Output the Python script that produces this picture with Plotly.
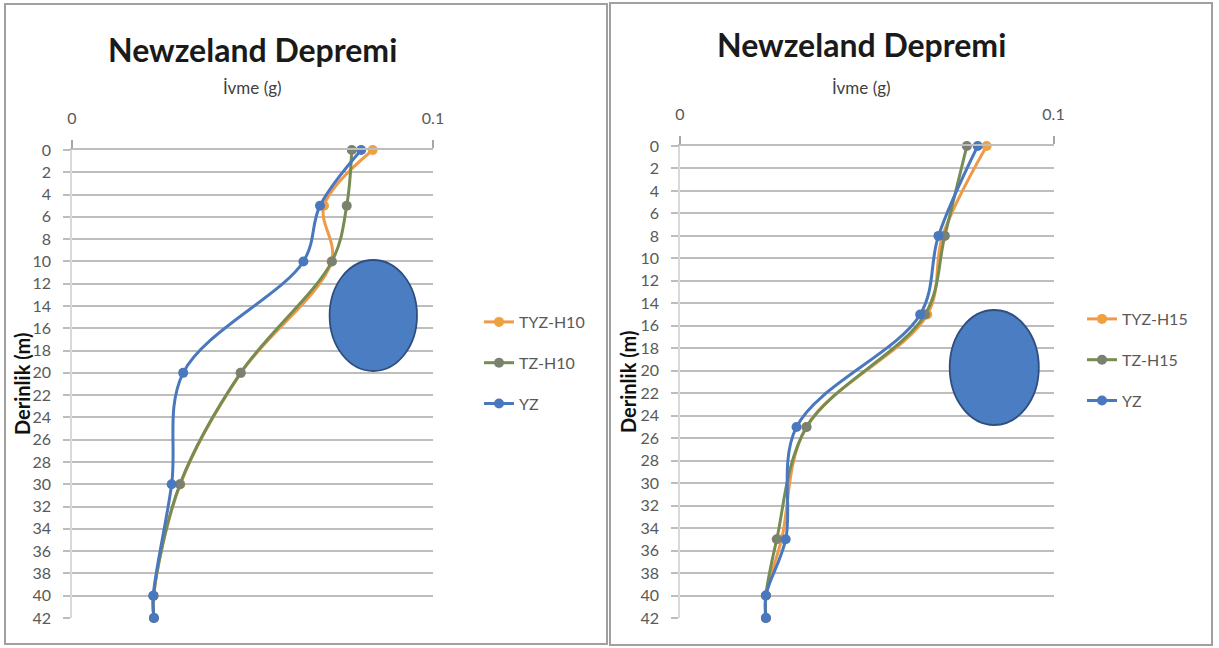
import plotly.graph_objects as go

# ---- data -------------------------------------------------------------
depth_h10 = [0, 5, 10, 20, 30, 40, 42]
tyz_h10 = [0.0833, 0.0698, 0.0719, 0.0468, 0.0300, 0.0226, 0.0227]
tz_h10 = [0.0775, 0.0761, 0.0720, 0.0467, 0.0299, 0.0226, 0.0227]
yz_h10 = [0.0801, 0.0687, 0.0641, 0.0308, 0.0276, 0.0225, 0.0227]

depth_h15 = [0, 8, 15, 25, 35, 40, 42]
tyz_h15 = [0.0821, 0.0703, 0.0662, 0.0338, 0.0272, 0.0230, 0.0230]
tz_h15 = [0.0768, 0.0709, 0.0656, 0.0339, 0.0259, 0.0230, 0.0230]
yz_h15 = [0.0797, 0.0692, 0.0643, 0.0312, 0.0283, 0.0230, 0.0230]

names_h10 = ["TYZ-H10", "TZ-H10", "YZ"]
names_h15 = ["TYZ-H15", "TZ-H15", "YZ"]

title_text = "Newzeland Depremi"
x_title = "İvme (g)"
y_title = "Derinlik (m)"
x_ticks = [0, 0.1]
x_ticktext = ["0", "0.1"]
y_ticks = list(range(0, 43, 2))

# ---- styling ----------------------------------------------------------
W, H = 1219, 648
FONT = "Lato"
line_cols = ["#EE9A48", "#758C52", "#4A78BE"]
mark_cols = ["#EFA040", "#7B8170", "#4A78BE"]


def px(x):
    return x / W


def py(y):
    return 1 - y / H


fig = go.Figure()

panels = [
    dict(depth=depth_h10, series=[tyz_h10, tz_h10, yz_h10], names=names_h10,
         xa="x", ya="y", legend="legend"),
    dict(depth=depth_h15, series=[tyz_h15, tz_h15, yz_h15], names=names_h15,
         xa="x2", ya="y2", legend="legend2"),
]

for p in panels:
    for i, (vals, name) in enumerate(zip(p["series"], p["names"])):
        fig.add_trace(go.Scatter(
            x=vals, y=p["depth"], name=name,
            mode="lines+markers",
            line=dict(color=line_cols[i], width=3, shape="spline", smoothing=1),
            marker=dict(color=mark_cols[i], size=10, symbol="circle"),
            xaxis=p["xa"], yaxis=p["ya"], legend=p["legend"],
            legendgroup=p["legend"] + name,
            cliponaxis=False,
        ))

tickfont = dict(family=FONT, size=16, color="#595959")


def xaxis_cfg(x0, x1):
    return dict(
        domain=[px(x0), px(x1)], range=[0, 0.1], side="top",
        tickvals=x_ticks, ticktext=x_ticktext, tickfont=tickfont,
        ticks="outside", ticklen=8, tickcolor="#A6A6A6", tickwidth=1.5,
        ticklabelstandoff=10, automargin=False,
        showgrid=False, zeroline=False,
        showline=True, linecolor="#BDBDBD", linewidth=1.6,
    )


def yaxis_cfg(y0, y1, anchor):
    return dict(
        domain=[py(y1), py(y0)], range=[42, 0], anchor=anchor,
        tickvals=y_ticks, tickfont=tickfont,
        ticks="outside", ticklen=7, tickcolor="#BDBDBD", tickwidth=1.6,
        ticklabelstandoff=9, automargin=False,
        showgrid=True, gridcolor="#BDBDBD", gridwidth=1.6,
        zeroline=False, showline=True, linecolor="#D9D9D9", linewidth=1.6,
    )


fig.update_layout(
    width=W, height=H,
    margin=dict(l=0, r=0, t=0, b=0),
    paper_bgcolor="white", plot_bgcolor="white",
    xaxis=dict(**xaxis_cfg(72, 433), anchor="y"),
    yaxis=yaxis_cfg(150, 618, "x"),
    xaxis2=dict(**xaxis_cfg(680, 1053.5), anchor="y2"),
    yaxis2=yaxis_cfg(146, 618, "x2"),
    legend=dict(x=px(479), y=py(305), xanchor="left", yanchor="top",
                font=dict(family=FONT, size=16, color="#595959"),
                tracegroupgap=17, bgcolor="rgba(0,0,0,0)"),
    legend2=dict(x=px(1082), y=py(302), xanchor="left", yanchor="top",
                 font=dict(family=FONT, size=16, color="#595959"),
                 tracegroupgap=17, bgcolor="rgba(0,0,0,0)"),
    showlegend=True,
)

# chart titles, axis titles
for cx, ty, sy in [(252, 49, 88), (861, 45, 87)]:
    fig.add_annotation(x=px(cx), y=py(ty), xref="paper", yref="paper",
                       text=f"<b>{title_text}</b>", showarrow=False,
                       font=dict(family=FONT, size=32, color="#1A1A1A"),
                       xanchor="center", yanchor="middle")
    fig.add_annotation(x=px(cx), y=py(sy), xref="paper", yref="paper",
                       text=x_title, showarrow=False,
                       font=dict(family=FONT, size=17, color="#404040"),
                       xanchor="center", yanchor="middle")

for lx, ly in [(22, 384), (628, 382)]:
    fig.add_annotation(x=px(lx), y=py(ly), xref="paper", yref="paper",
                       text=f"<b>{y_title}</b>", showarrow=False, textangle=-90,
                       font=dict(family=FONT, size=20, color="#111111"),
                       xanchor="center", yanchor="middle")

# panel frames
for x0, y0, x1, y1 in [(5, 4, 607, 644), (610, 3, 1212, 645)]:
    fig.add_shape(type="rect", xref="paper", yref="paper",
                  x0=px(x0), x1=px(x1), y0=py(y1), y1=py(y0),
                  line=dict(color="#A0A0A0", width=2), fillcolor="rgba(0,0,0,0)",
                  layer="above")

# blue ellipse markers
for x0, y0, x1, y1 in [(329.6, 260, 417, 371), (949.7, 310, 1038.8, 425)]:
    fig.add_shape(type="circle", xref="paper", yref="paper",
                  x0=px(x0), x1=px(x1), y0=py(y1), y1=py(y0),
                  fillcolor="#4A7DC2", line=dict(color="#2F4E80", width=1.8),
                  layer="above")

fig.write_html("out.html")
